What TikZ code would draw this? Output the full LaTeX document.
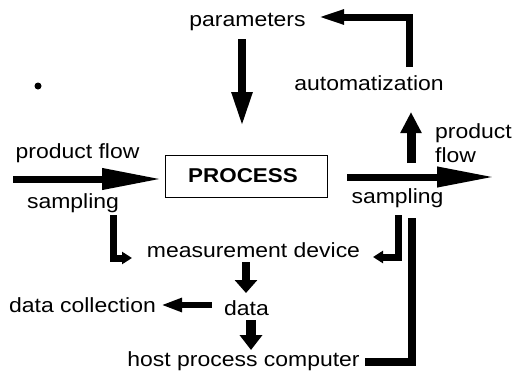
\documentclass[tikz,border=0pt]{standalone}
\usepackage{fontspec}
\setmainfont{Liberation Sans}[FakeStretch=1.12]
\usetikzlibrary{arrows.meta}
\begin{document}
\begin{tikzpicture}[x=1pt,y=-1pt,
  lbl/.style={anchor=base,inner sep=0pt,font=\fontsize{20.5}{24}\selectfont},
  lblw/.style={anchor=base west,inner sep=0pt,font=\fontsize{20.5}{24}\selectfont},
  thick arrow/.style={draw=black,line width=#1,line join=miter},
]
\useasboundingbox (0,0) rectangle (523,372);
% texts
\node[lbl] (par) at (247.5,27) {parameters};
\node[lbl] (aut) at (369,90) {automatization};
\node[lbl] (pfl) at (77.5,158) {product flow};
\node[lbl] (sml) at (73,208) {sampling};
\node[lblw] (pfr1) at (435,138) {product};
\node[lblw] (pfr2) at (435,162) {flow};
\node[lbl] (smr) at (397.5,203) {sampling};
\node[draw=black,line width=0.6pt,minimum width=162pt,minimum height=42pt,inner sep=0pt] (proc) at (246,176) {};
\node[anchor=base,inner sep=0pt,font=\fontsize{20}{24}\selectfont\bfseries] (proct) at (243,182) {PROCESS};
\node[lbl] (meas) at (253.5,257) {measurement device};
\node[lbl] (dcol) at (82.5,312) {data collection};
\node[lbl] (data) at (246.5,315) {data};
\node[lbl] (host) at (243.5,366.5) {host process computer};
\fill[black] (38,86) circle (3.5pt);
% connector ends
\coordinate (a1s) at (242,39);   \coordinate (a1e) at (242,127);
\coordinate (a2s) at (409,67);   \coordinate (a2e) at (316,17);
\coordinate (a3s) at (411,163);  \coordinate (a3e) at (411,112);
\coordinate (a4s) at (13,179);   \coordinate (a4e) at (162,179);
\coordinate (a5s) at (347,177);  \coordinate (a5e) at (495,177);
\coordinate (a6s) at (113,215);  \coordinate (a6e) at (132,258);
\coordinate (a7s) at (398,215);  \coordinate (a7e) at (373,257);
\coordinate (a8s) at (412,218);  \coordinate (a8e) at (365,362);
\coordinate (a9s) at (246,262);  \coordinate (a9e) at (246,293);
\coordinate (a10s) at (212,305); \coordinate (a10e) at (161,305);
\coordinate (a11s) at (251,320); \coordinate (a11e) at (251,350);
% connectors
\draw[thick arrow=8pt,-{Triangle[length=35pt,width=19pt]}] (a1s) -- (a1e);
\draw[thick arrow=7pt,-{Triangle[length=28pt,width=13pt]}] (a2s) |- (a2e);
\draw[thick arrow=9pt,-{Triangle[length=21pt,width=20pt]}] (a3s) -- (a3e);
\draw[thick arrow=7pt,-{Triangle[length=60pt,width=20pt]}] (a4s) -- (a4e);
\draw[thick arrow=7pt,-{Triangle[length=58pt,width=19pt]}] (a5s) -- (a5e);
\draw[thick arrow=7pt,-{Triangle[length=10pt,width=12pt]}] (a6s) |- (a6e);
\draw[thick arrow=7pt,-{Triangle[length=10pt,width=12pt]}] (a7s) |- (a7e);
\draw[thick arrow=8pt] (a8s) |- (a8e);
\draw[thick arrow=8pt,-{Triangle[length=13pt,width=22pt]}] (a9s) -- (a9e);
\draw[thick arrow=6pt,-{Triangle[length=21pt,width=13pt]}] (a10s) -- (a10e);
\draw[thick arrow=10pt,-{Triangle[length=15pt,width=22pt]}] (a11s) -- (a11e);
\end{tikzpicture}
\end{document}
